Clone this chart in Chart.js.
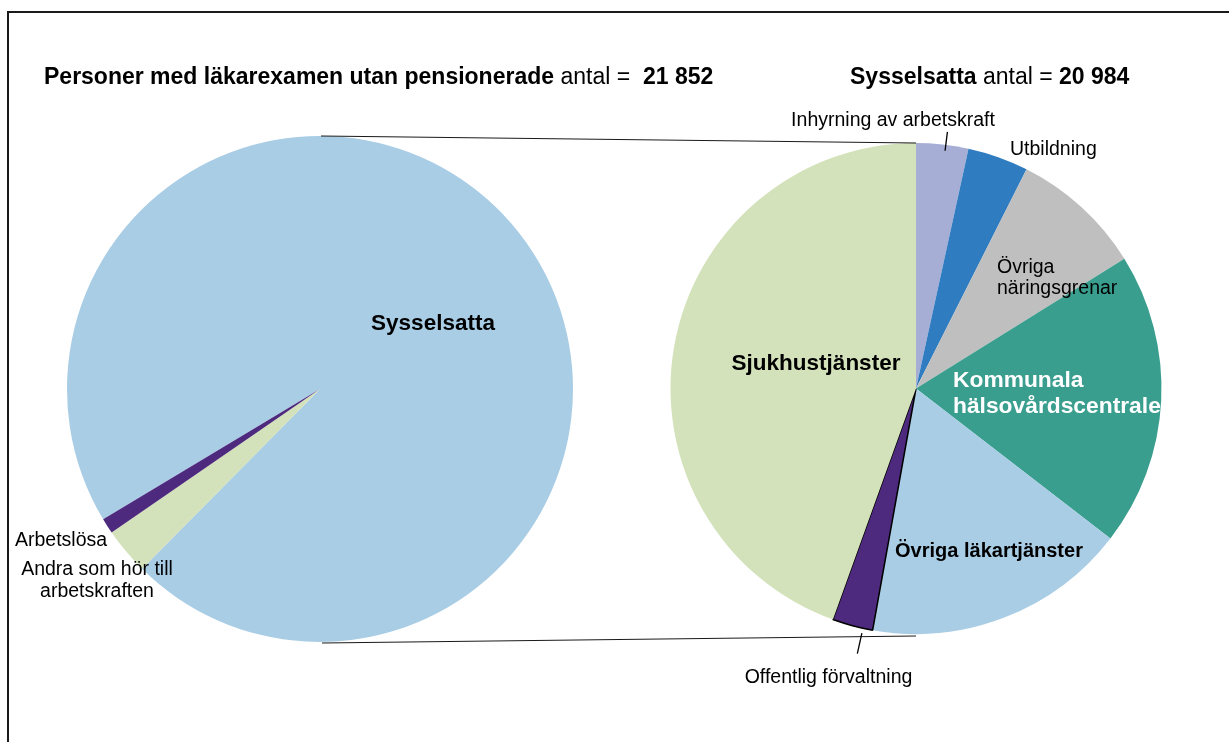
<!DOCTYPE html>
<html><head><meta charset="utf-8">
<script src="https://cdn.jsdelivr.net/npm/chart.js@4.4.0/dist/chart.umd.min.js"></script>
<style>
html,body{margin:0;padding:0;background:#fff;width:1229px;height:742px;overflow:hidden;}
#frame{position:absolute;left:7px;top:11px;width:1300px;height:800px;border:2px solid #1a1a1a;box-sizing:border-box;}
canvas{position:absolute;left:0;top:0;}
</style></head><body>
<div id="frame"></div>
<canvas id="leftPie" width="1229" height="742"></canvas>
<canvas id="rightPie" width="1229" height="742"></canvas>
<script>
// ---- data ----
const leftCategories = ['Sysselsatta', 'Andra som hör till arbetskraften', 'Arbetslösa'];
const leftValues = [20984, 653, 215];
const rightCategories = ['Inhyrning av arbetskraft', 'Utbildning', 'Övriga näringsgrenar',
  'Kommunala hälsovårdscentraler', 'Övriga läkartjänster', 'Offentlig förvaltning', 'Sjukhustjänster'];
const rightValues = [720, 840, 1825, 4055, 3645, 560, 9339];
const leftTotalLabel = '21 852';
const rightTotalLabel = '20 984';

// ---- styles ----
const FONT = '"Liberation Sans", Arial, Helvetica, sans-serif';
const leftColors = ['#A9CDE5', '#D3E2BA', '#4E2A7E'];
const rightColors = ['#A6AED6', '#2F7CC0', '#BFBFBF', '#3A9E8F', '#A9CDE5', '#4E2A7E', '#D3E2BA'];

const leftLabels = [
  {lines: ['Sysselsatta'], dx: 113, dy: -59, align: 'center', weight: 'bold', size: 22.5, color: '#000'},
  {lines: ['Arbetslösa'], dx: -259, dy: 157, align: 'center', weight: 'normal', size: 19.5, color: '#000'},
  {lines: ['Andra som hör till', 'arbetskraften'], dx: -223, dy: 186, lh: 21.5, align: 'center', weight: 'normal', size: 19.5, color: '#000'}
];
const rightLabels = [
  {lines: ['Inhyrning av arbetskraft'], dx: -23, dy: -262.5, align: 'center', weight: 'normal', size: 19.5, color: '#000'},
  {lines: ['Utbildning'], dx: 94, dy: -233.5, align: 'left', weight: 'normal', size: 19.5, color: '#000'},
  {lines: ['Övriga', 'näringsgrenar'], dx: 81, dy: -115.5, lh: 21, align: 'left', weight: 'normal', size: 19.5, color: '#000'},
  {lines: ['Kommunala', 'hälsovårdscentraler'], dx: 37, dy: -2, lh: 26, align: 'left', weight: 'bold', size: 22.8, color: '#fff', clip: true},
  {lines: ['Övriga läkartjänster'], dx: 73, dy: 168, align: 'center', weight: 'bold', size: 20, color: '#000'},
  {lines: ['Offentlig förvaltning'], dx: -87.5, dy: 294.5, align: 'center', weight: 'normal', size: 19.5, color: '#000'},
  {lines: ['Sjukhustjänster'], dx: -100, dy: -19, align: 'center', weight: 'bold', size: 22.5, color: '#000'}
];
// leader lines: slice index, angle offset (deg), r from / to relative to outer radius
const rightLeaders = [
  {index: 0, dAng: 0.8, r1: -6, r2: 13},
  {index: 5, dAng: -2.5, r1: 5, r2: 26}
];

function drawLabels(chart, labels) {
  const arc = chart.getDatasetMeta(0).data[0];
  const cx = arc.x, cy = arc.y;
  const ctx = chart.ctx;
  labels.forEach(l => {
    ctx.save();
    if (l.clip) {
      ctx.beginPath();
      ctx.arc(cx, cy, arc.outerRadius, 0, Math.PI * 2);
      ctx.clip();
    }
    ctx.textBaseline = 'alphabetic';
    ctx.font = l.weight + ' ' + l.size + 'px ' + FONT;
    ctx.fillStyle = l.color;
    ctx.textAlign = l.align;
    l.lines.forEach((t, i) => ctx.fillText(t, cx + l.dx, cy + l.dy + i * (l.lh || 0)));
    ctx.restore();
  });
}

function drawTitle(ctx, x, y, parts) {
  let cx = x;
  parts.forEach(p => {
    ctx.font = p[1] + ' 23px ' + FONT;
    ctx.fillText(p[0], cx, y);
    cx += ctx.measureText(p[0]).width;
  });
}

const leftChart = new Chart(document.getElementById('leftPie'), {
  type: 'pie',
  data: {labels: leftCategories, datasets: [{data: leftValues, backgroundColor: leftColors, borderWidth: 0}]},
  options: {
    responsive: false, animation: false, devicePixelRatio: 1,
    rotation: 239, radius: 253,
    layout: {padding: {left: 0, right: 589, top: 36, bottom: 0}},
    plugins: {legend: {display: false}, tooltip: {enabled: false}}
  },
  plugins: [{
    id: 'leftDecor',
    afterDraw(chart) {
      const ctx = chart.ctx;
      ctx.save();
      ctx.fillStyle = '#000';
      ctx.textAlign = 'left';
      ctx.textBaseline = 'alphabetic';
      drawTitle(ctx, 44, 84, [['Personer med läkarexamen utan pensionerade', 'bold'], [' antal = ', 'normal'], [' ' + leftTotalLabel, 'bold']]);
      drawTitle(ctx, 850, 84, [['Sysselsatta', 'bold'], [' antal = ', 'normal'], [rightTotalLabel, 'bold']]);
      ctx.restore();
      drawLabels(chart, leftLabels);
    }
  }]
});

const rightChart = new Chart(document.getElementById('rightPie'), {
  type: 'pie',
  data: {labels: rightCategories, datasets: [{
    data: rightValues, backgroundColor: rightColors,
    borderColor: rightCategories.map((c, i) => i === 5 ? '#000' : 'rgba(0,0,0,0)'),
    borderWidth: rightCategories.map((c, i) => i === 5 ? 1.5 : 0)
  }]},
  options: {
    responsive: false, animation: false, devicePixelRatio: 1,
    rotation: 0, radius: 245.5,
    layout: {padding: {left: 603, right: 0, top: 35, bottom: 0}},
    plugins: {legend: {display: false}, tooltip: {enabled: false}}
  },
  plugins: [{
    id: 'rightDecor',
    afterDraw(chart) {
      const ctx = chart.ctx;
      const la = leftChart.getDatasetMeta(0).data[0];
      const ra = chart.getDatasetMeta(0).data[0];
      ctx.save();
      ctx.strokeStyle = '#1a1a1a';
      ctx.lineWidth = 1.2;
      ctx.beginPath();
      ctx.moveTo(la.x + 1, la.y - la.outerRadius);
      ctx.lineTo(ra.x, ra.y - ra.outerRadius);
      ctx.moveTo(la.x + 2, la.y + la.outerRadius + 1);
      ctx.lineTo(ra.x, ra.y + ra.outerRadius + 2);
      ctx.stroke();
      // leader lines
      ctx.strokeStyle = '#000';
      ctx.lineWidth = 1.3;
      rightLeaders.forEach(ld => {
        const a = chart.getDatasetMeta(0).data[ld.index];
        const ang = (a.startAngle + a.endAngle) / 2 + ld.dAng * Math.PI / 180;
        const r1 = a.outerRadius + ld.r1, r2 = a.outerRadius + ld.r2;
        ctx.beginPath();
        ctx.moveTo(a.x + Math.cos(ang) * r1, a.y + Math.sin(ang) * r1);
        ctx.lineTo(a.x + Math.cos(ang) * r2, a.y + Math.sin(ang) * r2);
        ctx.stroke();
      });
      ctx.restore();
      drawLabels(chart, rightLabels);
    }
  }]
});
</script>
</body></html>
